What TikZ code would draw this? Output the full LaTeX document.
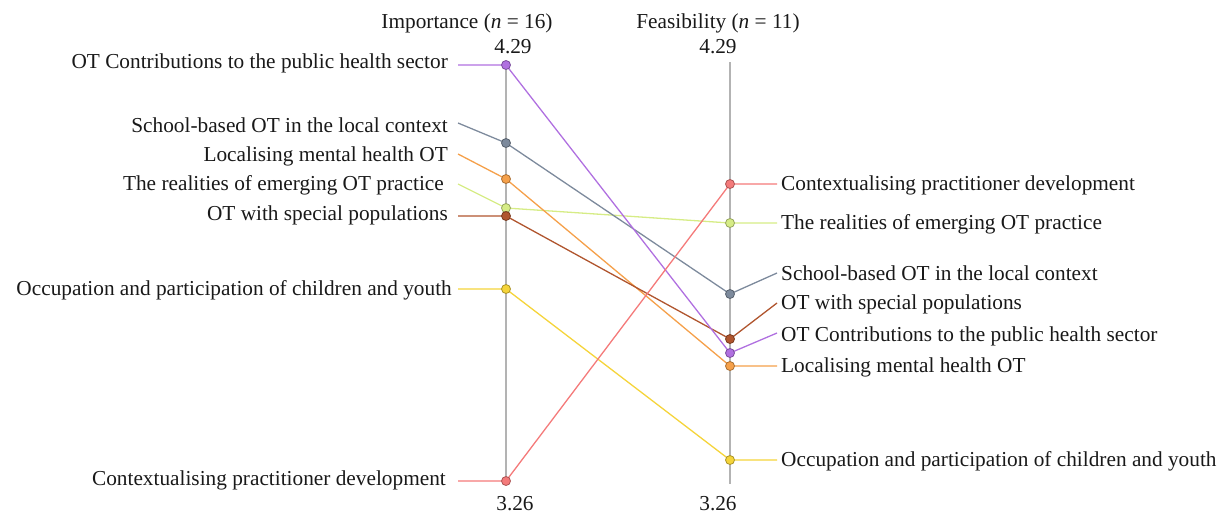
\documentclass[tikz,border=0pt]{standalone}
\usepackage{fontspec}
\setmainfont{Liberation Serif}
\definecolor{axisgray}{HTML}{B3B3B3}
\definecolor{cpurple}{HTML}{B070E0}
\definecolor{cslate}{HTML}{7D8A9C}
\definecolor{corange}{HTML}{F5A04A}
\definecolor{cgreen}{HTML}{D6EC86}
\definecolor{cbrown}{HTML}{B0552E}
\definecolor{cyellow}{HTML}{F5D43A}
\definecolor{cpink}{HTML}{F47A7A}
\begin{document}
\begin{tikzpicture}[x=1pt,y=-1pt,
  font=\fontsize{21.3}{25}\selectfont,
  axisline/.style={draw=axisgray, line width=2pt},
  conn/.style={draw=#1, line width=1.3pt},
  dot/.style={circle, inner sep=0pt, minimum size=9pt, fill=#1, draw=#1!70!black, line width=0.8pt},
  llab/.style={anchor=east, inner sep=0pt, text=black!90},
  rlab/.style={anchor=west, inner sep=0pt, text=black!90},
  num/.style={inner sep=0pt, text=black!90}]
\useasboundingbox (0,0) rectangle (1222,515);
% titles and scale numbers
\node[num] (t1) at (467,23) {Importance (\textit{n} = 16)};
\node[num] (t2) at (718,23) {Feasibility (\textit{n} = 11)};
\node[num] (lmax) at (513,47) {4.29};
\node[num] (rmax) at (718,47) {4.29};
\node[num] (lmin) at (515,504) {3.26};
\node[num] (rmin) at (718,504) {3.26};
% axes
\coordinate (la1) at (506,62); \coordinate (la2) at (506,484);
\coordinate (ra1) at (730,62); \coordinate (ra2) at (730,484);
\draw[axisline] (la1) -- (la2);
\draw[axisline] (ra1) -- (ra2);
% left points
\coordinate (Lpur) at (506,65);
\coordinate (Lsla) at (506,143);
\coordinate (Lora) at (506,179);
\coordinate (Lgre) at (506,208);
\coordinate (Lbro) at (506,216);
\coordinate (Lyel) at (506,289);
\coordinate (Lpin) at (506,481);
% right points
\coordinate (Rpin) at (730,184);
\coordinate (Rgre) at (730,223);
\coordinate (Rsla) at (730,294);
\coordinate (Rbro) at (730,339);
\coordinate (Rpur) at (730,353);
\coordinate (Rora) at (730,366);
\coordinate (Ryel) at (730,460);
% left labels
\node[llab] (lpur) at (448,63) {OT Contributions to the public health sector};
\node[llab] (lsla) at (448,125) {School-based OT in the local context};
\node[llab] (lora) at (448,156) {Localising mental health OT};
\node[llab] (lgre) at (444,185) {The realities of emerging OT practice};
\node[llab] (lbro) at (448,215) {OT with special populations};
\node[llab] (lyel) at (452,290) {Occupation and participation of children and youth};
\node[llab] (lpin) at (446,480) {Contextualising practitioner development};
\coordinate (ePur) at (458,65);
\coordinate (eSla) at (458,123);
\coordinate (eOra) at (458,154);
\coordinate (eGre) at (458,184);
\coordinate (eBro) at (458,216);
\coordinate (eYel) at (458,289);
\coordinate (ePin) at (458,481);
% right labels
\node[rlab] (rpin) at (781,185) {Contextualising practitioner development};
\node[rlab] (rgre) at (781,224) {The realities of emerging OT practice};
\node[rlab] (rsla) at (781,273) {School-based OT in the local context};
\node[rlab] (rbro) at (781,304) {OT with special populations};
\node[rlab] (rpur) at (781,336) {OT Contributions to the public health sector};
\node[rlab] (rora) at (781,367) {Localising mental health OT};
\node[rlab] (ryel) at (781,461) {Occupation and participation of children and youth};
\coordinate (fPin) at (777,184);
\coordinate (fGre) at (777,223);
\coordinate (fSla) at (777,273);
\coordinate (fBro) at (777,303);
\coordinate (fPur) at (777,333);
\coordinate (fOra) at (777,366);
\coordinate (fYel) at (777,460);
% connectors
\draw[conn=cgreen] (eGre) -- (Lgre) -- (Rgre) -- (fGre);
\draw[conn=cyellow] (eYel) -- (Lyel) -- (Ryel) -- (fYel);
\draw[conn=cslate] (eSla) -- (Lsla) -- (Rsla) -- (fSla);
\draw[conn=corange] (eOra) -- (Lora) -- (Rora) -- (fOra);
\draw[conn=cbrown] (eBro) -- (Lbro) -- (Rbro) -- (fBro);
\draw[conn=cpurple] (ePur) -- (Lpur) -- (Rpur) -- (fPur);
\draw[conn=cpink] (ePin) -- (Lpin) -- (Rpin) -- (fPin);
% dots
\foreach \p/\c in {pur/cpurple, sla/cslate, ora/corange, gre/cgreen, bro/cbrown, yel/cyellow, pin/cpink}{
  \node[dot=\c] (dL\p) at (L\p) {};
  \node[dot=\c] (dR\p) at (R\p) {};
}
\end{tikzpicture}
\end{document}
